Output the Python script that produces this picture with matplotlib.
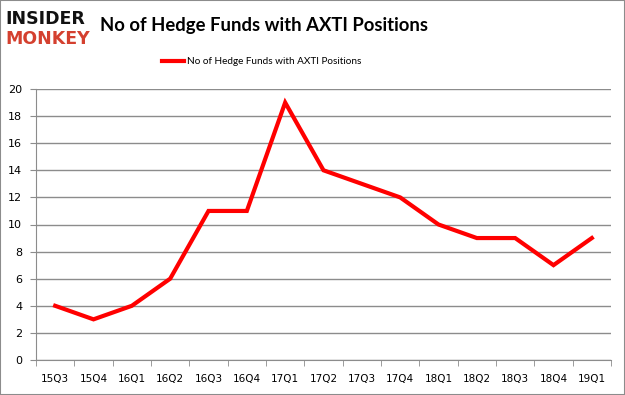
import matplotlib
matplotlib.use("Agg")
import matplotlib.pyplot as plt
from matplotlib.patches import Rectangle

quarters = ["15Q3", "15Q4", "16Q1", "16Q2", "16Q3", "16Q4", "17Q1", "17Q2",
            "17Q3", "17Q4", "18Q1", "18Q2", "18Q3", "18Q4", "19Q1"]
funds = [4, 3, 4, 6, 11, 11, 19, 14, 13, 12, 10, 9, 9, 7, 9]
yticks = [0, 2, 4, 6, 8, 10, 12, 14, 16, 18, 20]
series_name = "No of Hedge Funds with AXTI Positions"

W, H = 625, 395
fig = plt.figure(figsize=(W / 100, H / 100), dpi=100)
fig.patch.set_facecolor("white")
fig.patches.append(Rectangle((0, 0), 1, 1, transform=fig.transFigure,
                             fill=False, edgecolor="#8c8c8c", linewidth=1.5))

ax = fig.add_axes([36 / W, (H - 360) / H, (611 - 36) / W, (360 - 89) / H])
x = list(range(len(quarters)))
ax.plot(x, funds, color="#ff0000", linewidth=3, solid_joinstyle="miter",
        label=series_name)
ax.set_xlim(-0.5, len(quarters) - 0.5)
ax.set_ylim(0, 20)
ax.set_yticks(yticks)
ax.set_yticklabels([str(v) for v in yticks], fontsize=8)
ax.set_xticks(x)
ax.set_xticklabels(quarters, fontsize=7.5)
ax.set_xticks([i - 0.5 for i in range(len(quarters) + 1)], minor=True)
ax.tick_params(axis="x", which="major", length=0, pad=10)
ax.tick_params(axis="x", which="minor", length=4, color="#8c8c8c", direction="out")
ax.tick_params(axis="y", length=4, color="#8c8c8c", direction="out", pad=6)
ax.grid(axis="y", color="#8c8c8c", linewidth=1)
ax.set_axisbelow(True)
for s in ["top", "right"]:
    ax.spines[s].set_visible(False)
for s in ["left", "bottom"]:
    ax.spines[s].set_color("#8c8c8c")

fig.text(5 / W, 1 - 19 / H, "INSIDER", fontsize=12.5, fontweight="bold",
         color="#111111", va="center", ha="left", family="DejaVu Sans")
fig.text(5 / W, 1 - 39 / H, "MONKEY", fontsize=12.5, fontweight="bold",
         color="#d4402f", va="center", ha="left", family="DejaVu Sans")
fig.text(100 / W, 1 - 25 / H, series_name, fontsize=13.3, fontweight="bold",
         color="black", va="center", ha="left", family="Lato")

leg = fig.legend(loc="center left", bbox_to_anchor=(162 / W, 1 - 62 / H),
                 frameon=False, prop={"family": "Lato", "size": 7.2},
                 handlelength=2.2, handletextpad=0.3,
                 borderpad=0, borderaxespad=0)

fig.savefig("out.png", dpi=100)
